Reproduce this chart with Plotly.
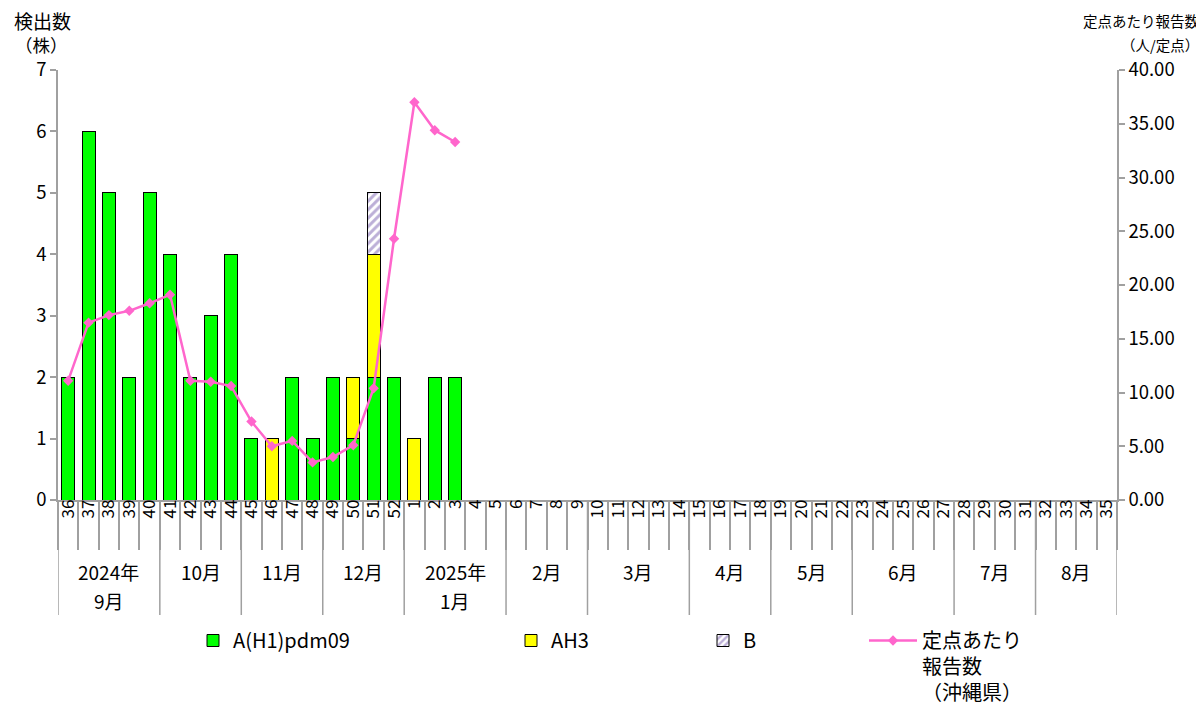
import plotly.graph_objects as go

# ---- data ----
weeks = [str(w) for w in list(range(36, 53)) + list(range(1, 36))]
h1_counts = [2, 6, 5, 2, 5, 4, 2, 3, 4, 1, 0, 2, 1, 2, 1, 2, 2, 0, 2, 2]
ah3_counts = [0, 0, 0, 0, 0, 0, 0, 0, 0, 0, 1, 0, 0, 0, 1, 2, 0, 1, 0, 0]
b_counts = [0, 0, 0, 0, 0, 0, 0, 0, 0, 0, 0, 0, 0, 0, 0, 1, 0, 0, 0, 0]
per_site = [11.1, 16.5, 17.2, 17.6, 18.3, 19.1, 11.1, 11.0, 10.6, 7.3,
            5.0, 5.5, 3.5, 4.0, 5.1, 10.4, 24.3, 37.0, 34.4, 33.3]
month_labels = ["2024年<br>9月", "10月", "11月", "12月", "2025年<br>1月", "2月",
                "3月", "4月", "5月", "6月", "7月", "8月"]
month_sizes = [5, 4, 4, 4, 5, 4, 5, 4, 4, 5, 4, 4]

FONT = "Noto Sans CJK JP"
GRAY = "#A0A0A0"

# page body has an 8px default margin -> figure is offset by 8px
OFF = 8
W, H = 1204 - OFF, 716 - OFF
L, R, T, B = 58 - OFF, 87, 70 - OFF, 216
pw, ph = W - L - R, H - T - B


def py(ypx):  # reference-picture y pixel -> paper
    return (H - B - (ypx - OFF)) / ph


def px(xpx):  # reference-picture x pixel -> paper
    return (xpx - OFF - L) / pw


def nz(v):
    return [x if x else None for x in v]


n = len(h1_counts)
xs = weeks[:n]

fig = go.Figure()
fig.add_trace(go.Bar(x=xs, y=nz(h1_counts), name="A(H1)pdm09",
                     marker=dict(color="#00FF00", line=dict(color="black", width=1)),
                     legend="legend"))
fig.add_trace(go.Bar(x=xs, y=nz(ah3_counts), name="AH3",
                     marker=dict(color="#FFFF00", line=dict(color="black", width=1)),
                     legend="legend2"))
fig.add_trace(go.Bar(x=xs, y=nz(b_counts), name="B",
                     marker=dict(color="white", line=dict(color="black", width=1),
                                 pattern=dict(shape="/", fgcolor="#7A5FB0", bgcolor="white",
                                              size=6, solidity=0.5)),
                     legend="legend3"))
fig.add_trace(go.Scatter(x=xs, y=per_site, name="定点あたり<br>報告数<br>（沖縄県）",
                         yaxis="y2", mode="lines+markers",
                         line=dict(color="#FF66CC", width=2.5),
                         marker=dict(symbol="diamond", size=8, color="#FF66CC"),
                         legend="legend4"))

# month separators and labels (each label line placed separately)
shapes = []
annotations = []
start = 0
bounds = [-0.5]
for lab, sz in zip(month_labels, month_sizes):
    end = start + sz
    bounds.append(end - 0.5)
    for i, line in enumerate(lab.split("<br>")):
        annotations.append(dict(x=(start + end - 1) / 2, xref="x",
                                y=py(571 + 29 * i), yref="paper",
                                yanchor="middle", xanchor="center", text=line,
                                showarrow=False,
                                font=dict(family=FONT, size=19, color="black")))
    start = end
for bnd in bounds:
    shapes.append(dict(type="line", xref="x", yref="paper", x0=bnd, x1=bnd,
                       y0=0, y1=py(615), line=dict(color=GRAY, width=1.5)))

# axis titles
for text, x, y, anchor, size in [("検出数", px(42), py(20), "center", 19),
                                 ("（株）", px(41), py(44), "center", 17.5),
                                 ("定点あたり報告数", px(1200), py(20), "right", 14.5),
                                 ("（人/定点）", px(1200), py(45), "right", 14.5)]:
    annotations.append(dict(x=x, y=y, xref="paper", yref="paper", text=text,
                            xanchor=anchor, yanchor="middle", showarrow=False,
                            borderpad=0,
                            font=dict(family=FONT, size=size, color="black")))

leg_common = dict(orientation="v", yanchor="top", xanchor="left",
                  font=dict(family=FONT, size=20, color="black"),
                  bgcolor="rgba(0,0,0,0)", tracegroupgap=0)

fig.update_layout(
    width=W, height=H,
    margin=dict(l=L, r=R, t=T, b=B, autoexpand=False),
    paper_bgcolor="white", plot_bgcolor="white",
    barmode="stack", bargap=0.36, showlegend=True,
    font=dict(family=FONT, color="black"),
    shapes=shapes, annotations=annotations,
    xaxis=dict(type="category", categoryorder="array", categoryarray=weeks,
               range=[-0.5, len(weeks) - 0.5], automargin=False,
               showline=True, linecolor=GRAY, linewidth=1.5,
               ticks="outside", tickson="boundaries", ticklen=48,
               tickcolor=GRAY, tickwidth=1.5,
               tickangle=-90, ticklabelstandoff=-9,
               tickfont=dict(family=FONT, size=17, color="black"),
               showgrid=False, zeroline=False),
    yaxis=dict(range=[0, 7], dtick=1, showline=True, linecolor=GRAY, linewidth=1.5,
               ticks="outside", ticklen=6, tickcolor=GRAY, tickwidth=1.5, automargin=False,
               tickfont=dict(family=FONT, size=18.5, color="black"),
               showgrid=False, zeroline=False),
    yaxis2=dict(range=[0, 40], dtick=5, tickformat=".2f", overlaying="y", side="right",
                showline=True, linecolor=GRAY, linewidth=1.5, automargin=False,
                ticks="outside", ticklen=6, tickcolor=GRAY, tickwidth=1.5,
                tickfont=dict(family=FONT, size=18.5, color="black"),
                showgrid=False, zeroline=False),
    legend=dict(x=px(193), y=py(621), **leg_common),
    legend2=dict(x=px(511), y=py(621), **leg_common),
    legend3=dict(x=px(703), y=py(621), **leg_common),
    legend4=dict(x=px(864), y=py(621), valign="top", itemwidth=48, **leg_common),
)

fig.write_html("out.html")
